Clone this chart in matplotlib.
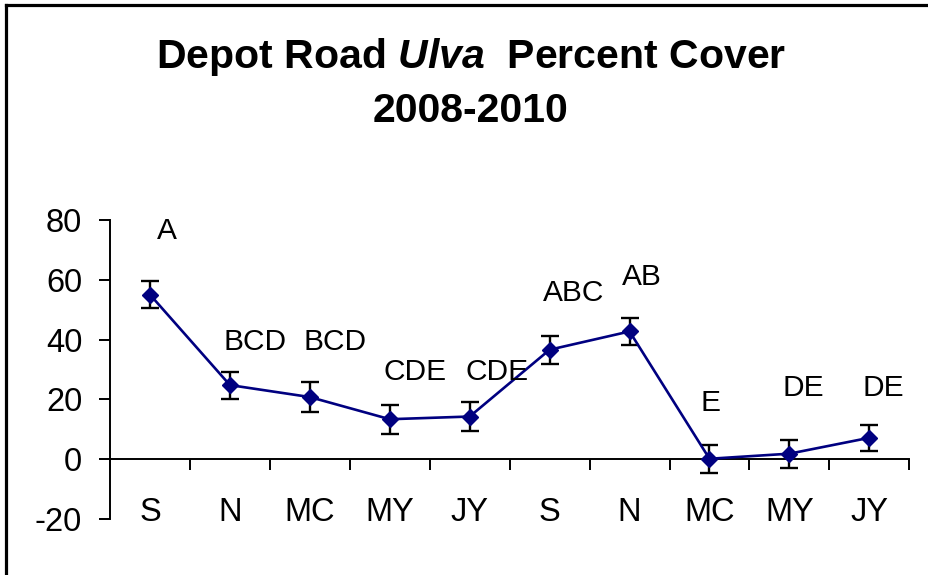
import matplotlib
matplotlib.use("Agg")
import matplotlib.pyplot as plt
from matplotlib.lines import Line2D

plt.rcParams['font.family'] = ['Liberation Sans', 'DejaVu Sans']
plt.rcParams['mathtext.fontset'] = 'custom'
plt.rcParams['mathtext.it'] = 'Liberation Sans:bold:italic'
plt.rcParams['mathtext.rm'] = 'Liberation Sans:bold'
plt.rcParams['axes.unicode_minus'] = False

# sampling months, two years
months = ['S', 'N', 'MC', 'MY', 'JY', 'S', 'N', 'MC', 'MY', 'JY']
cover = [55.0, 24.8, 20.8, 13.4, 14.3, 36.6, 42.7, 0.2, 1.9, 7.2]
err = [4.5, 4.5, 4.9, 4.8, 4.9, 4.7, 4.4, 4.7, 4.7, 4.3]

# significance letters and where they sit (x offset from category, y height)
letters = ['A', 'BCD', 'BCD', 'CDE', 'CDE', 'ABC', 'AB', 'E', 'DE', 'DE']
letter_dx = [0.21, 0.31, 0.32, 0.32, 0.34, 0.30, 0.15, 0.01, 0.17, 0.17]
letter_y = [76.3, 39.3, 39.3, 29.0, 29.3, 55.7, 61.0, 18.8, 23.7, 23.7]

fig = plt.figure(figsize=(9.29, 5.75), dpi=100)
ax = fig.add_axes([0.1184, 0.0969, 0.8604, 0.5210])

x = list(range(len(months)))
ax.errorbar(x, cover, yerr=err, fmt='none', ecolor='black',
            elinewidth=1.7, capsize=6.5, capthick=1.7, zorder=2)
ax.plot(x, cover, color='#000080', lw=1.9, marker='D', ms=8.3,
        mfc='#000080', mec='#000080', zorder=3)

for i, lab in enumerate(letters):
    ax.text(i + letter_dx[i], letter_y[i], lab, fontsize=21.5,
            ha='center', va='center')

ax.set_xlim(-0.5, 9.5)
ax.set_ylim(-20, 80)
ax.set_yticks([-20, 0, 20, 40, 60, 80])
ax.tick_params(axis='y', labelsize=23.5, length=8, width=1.4, pad=12)

# x axis crosses at zero, ticks between categories
ax.spines['bottom'].set_position(('data', 0))
ax.set_xticks([i - 0.5 for i in range(len(months) + 1)])
ax.set_xticklabels([])
ax.set_xticks(x, minor=True)
ax.set_xticklabels(months, minor=True)
ax.tick_params(axis='x', which='major', length=8, width=1.4, direction='out')
ax.tick_params(axis='x', which='minor', length=0, labelsize=23.5, pad=27)

ax.spines['top'].set_visible(False)
ax.spines['right'].set_visible(False)
ax.spines['left'].set_linewidth(1.4)
ax.spines['bottom'].set_linewidth(1.4)

fig.text(471 / 929, 1 - 68.3 / 575, 'Depot Road $Ulva$  Percent Cover',
         fontsize=29.5, fontweight='bold', ha='center', va='baseline')
fig.text(470 / 929, 1 - 121.7 / 575, '2008-2010',
         fontsize=29.5, fontweight='bold', ha='center', va='baseline')

# chart area frame (only left and top edges show)
fig.add_artist(Line2D([6 / 929, 6 / 929], [0, 1 - 5 / 575], color='black',
                      lw=2.3, transform=fig.transFigure))
fig.add_artist(Line2D([6 / 929, 1], [1 - 5 / 575, 1 - 5 / 575], color='black',
                      lw=2.3, transform=fig.transFigure))

fig.savefig('out.png', dpi=100)
